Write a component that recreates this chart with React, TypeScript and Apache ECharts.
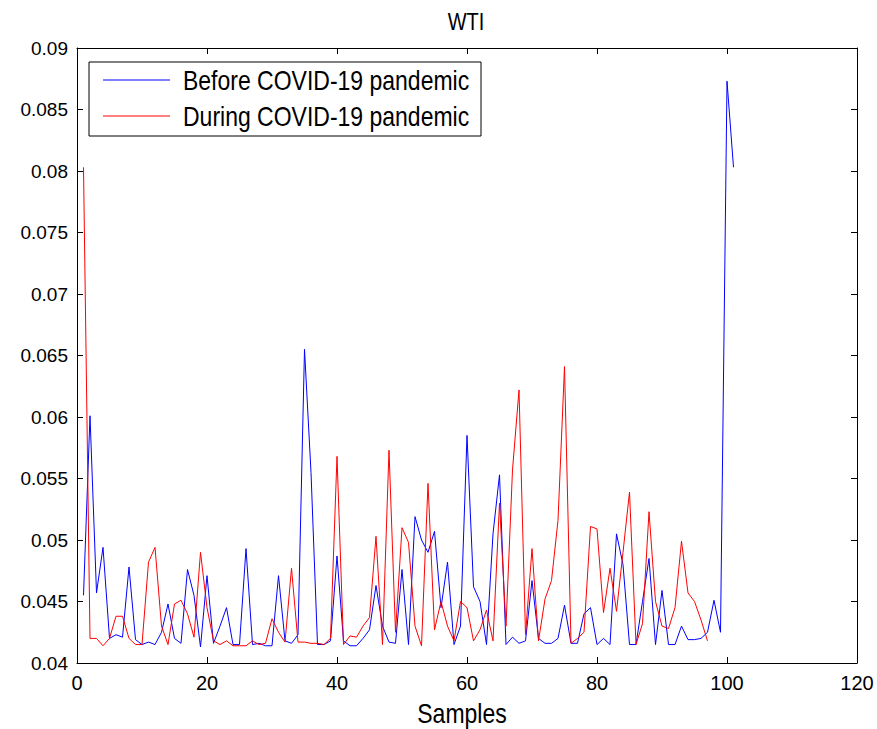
import React, { useEffect, useRef } from "react";
import * as echarts from "echarts";

const titleText = "WTI";
const xAxisName = "Samples";
const seriesNames = ["Before COVID-19 pandemic", "During COVID-19 pandemic"];
const seriesColors = ["#0000ff", "#ff0000"];

const beforeValues = [
  0.0455, 0.0601, 0.0457, 0.0494, 0.0420, 0.0423, 0.0421, 0.0478, 0.0419, 0.0415,
  0.0417, 0.0415, 0.0425, 0.0448, 0.0420, 0.0416, 0.0476, 0.0455, 0.0413, 0.0471,
  0.0416, 0.0430, 0.0445, 0.0415, 0.0415, 0.0493, 0.0415, 0.0416, 0.0414, 0.0414,
  0.0471, 0.0418, 0.0416, 0.0423, 0.0655, 0.0555, 0.0415, 0.0415, 0.0418, 0.0487,
  0.0418, 0.0414, 0.0414, 0.0420, 0.0427, 0.0463, 0.0430, 0.0417, 0.0416, 0.0476,
  0.0415, 0.0519, 0.0500, 0.0490, 0.0507, 0.0445, 0.0482, 0.0415, 0.0430, 0.0585,
  0.0462, 0.0450, 0.0415, 0.0505, 0.0553, 0.0415, 0.0421, 0.0416, 0.0418, 0.0467,
  0.0420, 0.0416, 0.0416, 0.0420, 0.0447, 0.0416, 0.0416, 0.0440, 0.0445, 0.0415,
  0.0420, 0.0415, 0.0505, 0.0480, 0.0415, 0.0415, 0.0450, 0.0485, 0.0415, 0.0459,
  0.0415, 0.0415, 0.0430, 0.0419, 0.0419, 0.0420, 0.0425, 0.0451, 0.0425, 0.0873,
  0.0803,
];

const duringValues = [
  0.0803, 0.0420, 0.0420, 0.0414, 0.0420, 0.0438, 0.0438, 0.0420, 0.0415, 0.0415,
  0.0482, 0.0494, 0.0430, 0.0415, 0.0448, 0.0451, 0.0440, 0.0421, 0.0490, 0.0445,
  0.0418, 0.0415, 0.0418, 0.0414, 0.0414, 0.0414, 0.0418, 0.0415, 0.0416, 0.0436,
  0.0425, 0.0417, 0.0477, 0.0417, 0.0417, 0.0416, 0.0416, 0.0415, 0.0420, 0.0568,
  0.0415, 0.0422, 0.0421, 0.0430, 0.0437, 0.0503, 0.0415, 0.0573, 0.0425, 0.0510,
  0.0498, 0.0430, 0.0414, 0.0546, 0.0427, 0.0450, 0.0430, 0.0418, 0.0450, 0.0445,
  0.0418, 0.0427, 0.0443, 0.0418, 0.0530, 0.0430, 0.0557, 0.0622, 0.0423, 0.0493,
  0.0418, 0.0452, 0.0467, 0.0516, 0.0641, 0.0416, 0.0420, 0.0425, 0.0511, 0.0509,
  0.0441, 0.0477, 0.0442, 0.0490, 0.0539, 0.0415, 0.0432, 0.0523, 0.0450, 0.0430,
  0.0428, 0.0445, 0.0499, 0.0457, 0.0450, 0.0435, 0.0418,
];

const FONT = "'Liberation Sans', Arial, sans-serif";

export default function App() {
  const ref = useRef<HTMLDivElement>(null);
  useEffect(() => {
    if (!ref.current) return;
    const chart = echarts.init(ref.current, undefined, { renderer: "svg" });
    const axisCommon = {
      type: "value" as const,
      axisLine: { show: true, onZero: false, lineStyle: { color: "#000", width: 1 } },
      axisTick: { show: true, inside: true, length: 6, lineStyle: { color: "#000" } },
      splitLine: { show: false },
    };
    const textEl = (text: string, x: number, y: number, size: number, align: string) => ({
      type: "text",
      z: 11,
      x,
      y,
      scaleY: 1.18,
      style: {
        text,
        fontFamily: FONT,
        fontSize: size,
        fill: "#000",
        verticalAlign: "middle",
        align,
      },
    });
    const legendElements: any[] = [];
    seriesNames.forEach((n, i) => {
      const y = 80 + i * 36;
      legendElements.push({
        type: "line",
        z: 11,
        shape: { x1: 103, y1: y, x2: 170, y2: y },
        style: { stroke: seriesColors[i], lineWidth: 1 },
      });
      legendElements.push(textEl(n, 183, y, 23, "left"));
    });
    chart.setOption({
      animation: false,
      backgroundColor: "#fff",
      textStyle: { fontFamily: FONT },
      grid: { left: 77, right: 20, top: 48, bottom: 66, containLabel: false },
      xAxis: [
        {
          ...axisCommon,
          position: "bottom",
          min: 0,
          max: 120,
          interval: 20,
          axisLabel: { fontFamily: FONT, fontSize: 20, color: "#000", margin: 10 },
        },
        {
          ...axisCommon,
          position: "top",
          min: 0,
          max: 120,
          interval: 20,
          axisLabel: { show: false },
        },
      ],
      yAxis: [
        {
          ...axisCommon,
          position: "left",
          min: 0.04,
          max: 0.09,
          interval: 0.005,
          axisLabel: { fontFamily: FONT, fontSize: 19, color: "#000", margin: 9 },
        },
        {
          ...axisCommon,
          position: "right",
          min: 0.04,
          max: 0.09,
          interval: 0.005,
          axisLabel: { show: false },
        },
      ],
      graphic: [
        textEl(titleText, 466, 22, 20, "center"),
        textEl(xAxisName, 462, 713, 23, "center"),
        {
          type: "rect",
          z: 10,
          shape: { x: 89, y: 62, width: 392, height: 74 },
          style: { fill: "#fff", stroke: "#000", lineWidth: 1 },
        },
        ...legendElements,
      ],
      series: [
        {
          name: seriesNames[0],
          type: "line",
          data: beforeValues.map((v, i) => [i + 1, v]),
          showSymbol: false,
          symbol: "none",
          lineStyle: { color: seriesColors[0], width: 1 },
          itemStyle: { color: seriesColors[0] },
        },
        {
          name: seriesNames[1],
          type: "line",
          data: duringValues.map((v, i) => [i + 1, v]),
          showSymbol: false,
          symbol: "none",
          lineStyle: { color: seriesColors[1], width: 1 },
          itemStyle: { color: seriesColors[1] },
        },
      ],
    });
    return () => chart.dispose();
  }, []);
  return (
    <div
      ref={ref}
      style={{ position: "absolute", left: 0, top: 0, width: 877, height: 729 }}
    />
  );
}
